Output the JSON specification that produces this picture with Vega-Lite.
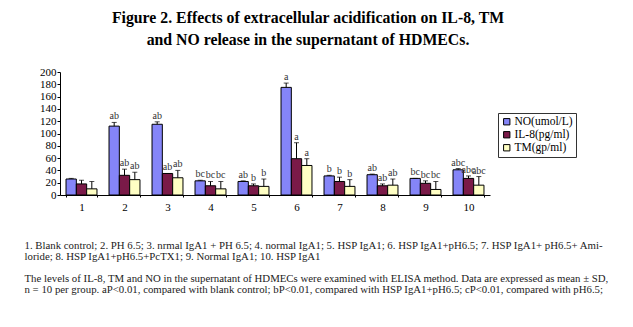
{
  "$schema": "https://vega.github.io/schema/vega-lite/v6.json",
  "autosize": "none",
  "width": 430,
  "height": 123,
  "padding": {"left": 60, "top": 72, "right": 143, "bottom": 132},
  "background": "white",
  "config": {
    "view": {"stroke": null},
    "font": "Liberation Serif",
    "axisY": {"labelOverlap": false, "grid": false, "labelFont": "Liberation Serif", "labelFontSize": 11, "labelColor": "black", "domainColor": "black", "tickColor": "black", "tickSize": 3, "labelPadding": 1}
  },
  "title": {
    "text": ["Figure 2. Effects of extracellular acidification on IL-8, TM", "and NO release in the supernatant of HDMECs."],
    "font": "Liberation Serif",
    "fontSize": 15.8,
    "fontWeight": "bold",
    "color": "black",
    "anchor": "middle",
    "dx": 33,
    "offset": 17,
    "lineHeight": 22
  },
  "data": {"values": [
    {"g": "1", "s": "NO(umol/L)", "v": 26, "e": 27, "l": ""},
    {"g": "1", "s": "IL-8(pg/ml)", "v": 18, "e": 24, "l": ""},
    {"g": "1", "s": "TM(gp/ml)", "v": 10, "e": 22, "l": ""},
    {"g": "2", "s": "NO(umol/L)", "v": 112, "e": 118, "l": "ab"},
    {"g": "2", "s": "IL-8(pg/ml)", "v": 32, "e": 42, "l": "ab"},
    {"g": "2", "s": "TM(gp/ml)", "v": 25, "e": 37, "l": "ab"},
    {"g": "3", "s": "NO(umol/L)", "v": 115, "e": 119, "l": "ab"},
    {"g": "3", "s": "IL-8(pg/ml)", "v": 35, "e": 35, "l": "ab"},
    {"g": "3", "s": "TM(gp/ml)", "v": 28, "e": 40, "l": "ab"},
    {"g": "4", "s": "NO(umol/L)", "v": 23, "e": 24, "l": "bc"},
    {"g": "4", "s": "IL-8(pg/ml)", "v": 15, "e": 22, "l": "bc"},
    {"g": "4", "s": "TM(gp/ml)", "v": 10, "e": 22, "l": "bc"},
    {"g": "5", "s": "NO(umol/L)", "v": 22, "e": 23, "l": "ab"},
    {"g": "5", "s": "IL-8(pg/ml)", "v": 15, "e": 18, "l": "b"},
    {"g": "5", "s": "TM(gp/ml)", "v": 14, "e": 26, "l": "b"},
    {"g": "6", "s": "NO(umol/L)", "v": 175, "e": 182, "l": "a"},
    {"g": "6", "s": "IL-8(pg/ml)", "v": 59, "e": 85, "l": "a"},
    {"g": "6", "s": "TM(gp/ml)", "v": 48, "e": 59, "l": "a"},
    {"g": "7", "s": "NO(umol/L)", "v": 31, "e": 32, "l": "b"},
    {"g": "7", "s": "IL-8(pg/ml)", "v": 22, "e": 29, "l": "b"},
    {"g": "7", "s": "TM(gp/ml)", "v": 14, "e": 25, "l": "b"},
    {"g": "8", "s": "NO(umol/L)", "v": 33, "e": 34, "l": "ab"},
    {"g": "8", "s": "IL-8(pg/ml)", "v": 15, "e": 18, "l": "ab"},
    {"g": "8", "s": "TM(gp/ml)", "v": 16, "e": 26, "l": "ab"},
    {"g": "9", "s": "NO(umol/L)", "v": 27, "e": 27, "l": "bc"},
    {"g": "9", "s": "IL-8(pg/ml)", "v": 19, "e": 23, "l": "bc"},
    {"g": "9", "s": "TM(gp/ml)", "v": 9, "e": 22, "l": "bc"},
    {"g": "10", "s": "NO(umol/L)", "v": 41, "e": 43, "l": "abc"},
    {"g": "10", "s": "IL-8(pg/ml)", "v": 27, "e": 31, "l": "abc"},
    {"g": "10", "s": "TM(gp/ml)", "v": 16, "e": 30, "l": "abc"}
  ]},
  "encoding": {
    "x": {
      "field": "g", "type": "nominal", "sort": null,
      "scale": {"paddingInner": 0.28, "paddingOuter": 0.14},
      "axis": {
        "labelAngle": 0, "labelFont": "Liberation Serif", "labelFontSize": 11, "labelColor": "black",
        "domainColor": "black", "tickColor": "black", "tickBand": "extent", "tickSize": 2, "labelPadding": 4,
        "title": [
          "1. Blank control; 2. PH 6.5; 3. nrmal IgA1 + PH 6.5; 4. normal IgA1; 5. HSP IgA1; 6. HSP IgA1+pH6.5; 7. HSP IgA1+ pH6.5+ Ami-",
          "loride; 8. HSP IgA1+pH6.5+PcTX1; 9. Normal IgA1; 10. HSP IgA1",
          "\u200b",
          "The levels of IL-8, TM and NO in the supernatant of HDMECs were examined with ELISA method. Data are expressed as mean ± SD,",
          "n = 10 per group. aP<0.01, compared with blank control; bP<0.01, compared with HSP IgA1+pH6.5; cP<0.01, compared with pH6.5;"
        ],
        "titleFont": "Liberation Serif", "titleFontSize": 10.8, "titleFontWeight": "normal", "titleColor": "#222",
        "titleAlign": "left", "titleAnchor": "start", "titleBaseline": "top",
        "titleX": -36, "titleY": 44, "titleLineHeight": 11
      }
    },
    "xOffset": {"field": "s", "type": "nominal", "sort": null, "scale": {"paddingInner": 0, "paddingOuter": 0}}
  },
  "layer": [
    {
      "mark": {"type": "bar", "stroke": "black", "strokeWidth": 1},
      "encoding": {
        "y": {
          "field": "v", "type": "quantitative",
          "scale": {"domain": [0, 200], "nice": false},
          "axis": {"title": null, "values": [0,20,40,60,80,100,120,140,160,180,200]}
        },
        "color": {
          "field": "s", "type": "nominal", "sort": null,
          "scale": {"domain": ["NO(umol/L)", "IL-8(pg/ml)", "TM(gp/ml)"], "range": ["#8585F8", "#7A1A48", "#FFFFC4"]},
          "legend": {
            "title": null, "orient": "none", "legendX": 438, "legendY": 41,
            "direction": "vertical",
            "strokeColor": "#333", "fillColor": "white", "padding": 3, "rowPadding": 0,
            "symbolType": "square", "symbolSize": 40, "symbolStrokeColor": "black", "symbolStrokeWidth": 1,
            "labelFont": "Liberation Serif", "labelFontSize": 11.5, "labelColor": "black", "labelOffset": 2,
            "symbolOpacity": 1
          }
        }
      }
    },
    {
      "mark": {"type": "rule", "color": "black", "strokeWidth": 1},
      "encoding": {
        "y": {"field": "v", "type": "quantitative", "axis": {"title": null, "values": [0,20,40,60,80,100,120,140,160,180,200]}},
        "y2": {"field": "e"}
      }
    },
    {
      "mark": {"type": "tick", "color": "black", "thickness": 1, "size": 5, "orient": "horizontal"},
      "encoding": {"y": {"field": "e", "type": "quantitative", "axis": {"title": null, "values": [0,20,40,60,80,100,120,140,160,180,200]}}}
    },
    {
      "transform": [{"filter": "datum.l != ''"}],
      "mark": {"type": "text", "baseline": "bottom", "dy": -1, "fontSize": 10, "font": "Liberation Serif", "color": "#333"},
      "encoding": {
        "y": {"field": "e", "type": "quantitative", "axis": {"title": null, "values": [0,20,40,60,80,100,120,140,160,180,200]}},
        "text": {"field": "l"}
      }
    }
  ]
}
